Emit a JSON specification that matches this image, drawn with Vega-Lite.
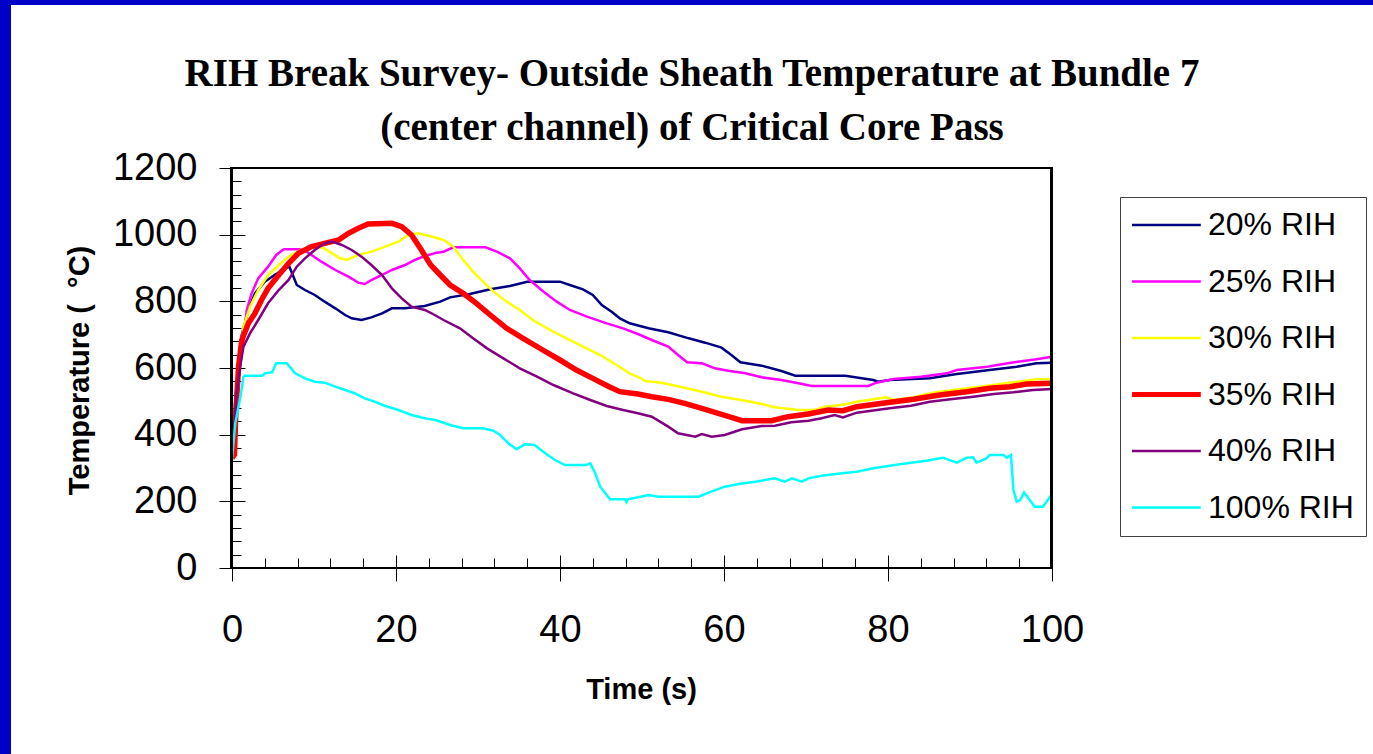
{
"$schema": "https://vega.github.io/schema/vega-lite/v6.json",
"width": 1362, "height": 749,
"autosize": {"type": "none"},
"padding": {"left": 11, "top": 5, "right": 0, "bottom": 0},
"background": "#0000C8",
"config": {"view": {"fill": "white", "stroke": null}, "font": "Liberation Sans",
  "axis": {"grid": false, "domain": false, "tickColor": "black", "tickWidth": 1, "labelColor": "black", "titleColor": "black"}},
"title": {"text": ["RIH Break Survey- Outside Sheath Temperature at Bundle 7", "(center channel) of Critical Core Pass"],
  "font": "Liberation Serif", "fontSize": 39, "fontWeight": "bold", "anchor": "middle", "frame": "group",
  "baseline": "bottom", "lineHeight": 54, "offset": -182, "color": "black"},
"data": {"values": [
{"s":"20% RIH","t":0,"T":330},{"s":"20% RIH","t":0.4,"T":500},{"s":"20% RIH","t":0.8,"T":620},{"s":"20% RIH","t":1.2,"T":700},{"s":"20% RIH","t":2.0,"T":774},{"s":"20% RIH","t":2.8,"T":824},{"s":"20% RIH","t":4.0,"T":859},{"s":"20% RIH","t":5.2,"T":879},{"s":"20% RIH","t":6.5,"T":899},{"s":"20% RIH","t":7.0,"T":904},{"s":"20% RIH","t":7.5,"T":874},{"s":"20% RIH","t":7.9,"T":849},{"s":"20% RIH","t":8.9,"T":834},{"s":"20% RIH","t":10.1,"T":819},{"s":"20% RIH","t":11.3,"T":799},{"s":"20% RIH","t":12.6,"T":779},{"s":"20% RIH","t":13.8,"T":759},{"s":"20% RIH","t":14.6,"T":749},{"s":"20% RIH","t":15.8,"T":744},{"s":"20% RIH","t":17,"T":752},{"s":"20% RIH","t":18.3,"T":764},{"s":"20% RIH","t":19.5,"T":779},{"s":"20% RIH","t":21.1,"T":779},{"s":"20% RIH","t":23.5,"T":786},{"s":"20% RIH","t":25.4,"T":799},{"s":"20% RIH","t":26.6,"T":812},{"s":"20% RIH","t":29,"T":822},{"s":"20% RIH","t":31.5,"T":836},{"s":"20% RIH","t":33.9,"T":846},{"s":"20% RIH","t":36,"T":859},{"s":"20% RIH","t":40,"T":859},{"s":"20% RIH","t":41.2,"T":849},{"s":"20% RIH","t":42.8,"T":836},{"s":"20% RIH","t":44,"T":819},{"s":"20% RIH","t":45.1,"T":789},{"s":"20% RIH","t":46.3,"T":769},{"s":"20% RIH","t":47.3,"T":749},{"s":"20% RIH","t":48.5,"T":734},{"s":"20% RIH","t":50.8,"T":719},{"s":"20% RIH","t":53.2,"T":707},{"s":"20% RIH","t":55.7,"T":689},{"s":"20% RIH","t":57.7,"T":676},{"s":"20% RIH","t":59.7,"T":661},{"s":"20% RIH","t":60.9,"T":639},{"s":"20% RIH","t":62,"T":617},{"s":"20% RIH","t":64.6,"T":607},{"s":"20% RIH","t":67,"T":591},{"s":"20% RIH","t":68.7,"T":577},{"s":"20% RIH","t":74.8,"T":577},{"s":"20% RIH","t":78.2,"T":564},{"s":"20% RIH","t":78.8,"T":559},{"s":"20% RIH","t":80.2,"T":564},{"s":"20% RIH","t":85.1,"T":569},{"s":"20% RIH","t":88.4,"T":582},{"s":"20% RIH","t":92.4,"T":594},{"s":"20% RIH","t":95.7,"T":604},{"s":"20% RIH","t":98.1,"T":614},{"s":"20% RIH","t":100,"T":616},
{"s":"25% RIH","t":0,"T":330},{"s":"25% RIH","t":0.5,"T":500},{"s":"25% RIH","t":1.0,"T":620},{"s":"25% RIH","t":1.4,"T":684},{"s":"25% RIH","t":1.8,"T":774},{"s":"25% RIH","t":2.4,"T":824},{"s":"25% RIH","t":3.2,"T":869},{"s":"25% RIH","t":4.4,"T":904},{"s":"25% RIH","t":5.4,"T":939},{"s":"25% RIH","t":6.3,"T":956},{"s":"25% RIH","t":8.7,"T":956},{"s":"25% RIH","t":9.7,"T":939},{"s":"25% RIH","t":10.9,"T":919},{"s":"25% RIH","t":12.6,"T":894},{"s":"25% RIH","t":14.2,"T":874},{"s":"25% RIH","t":15.4,"T":856},{"s":"25% RIH","t":16.2,"T":852},{"s":"25% RIH","t":17,"T":864},{"s":"25% RIH","t":18.3,"T":879},{"s":"25% RIH","t":19.5,"T":894},{"s":"25% RIH","t":21.1,"T":909},{"s":"25% RIH","t":22.3,"T":924},{"s":"25% RIH","t":23.5,"T":936},{"s":"25% RIH","t":25,"T":946},{"s":"25% RIH","t":25.8,"T":949},{"s":"25% RIH","t":27,"T":962},{"s":"25% RIH","t":30.9,"T":962},{"s":"25% RIH","t":32.3,"T":949},{"s":"25% RIH","t":33.9,"T":929},{"s":"25% RIH","t":35.1,"T":899},{"s":"25% RIH","t":36.3,"T":864},{"s":"25% RIH","t":38,"T":829},{"s":"25% RIH","t":39.6,"T":799},{"s":"25% RIH","t":41.2,"T":774},{"s":"25% RIH","t":43.3,"T":754},{"s":"25% RIH","t":45.7,"T":734},{"s":"25% RIH","t":47.7,"T":719},{"s":"25% RIH","t":49.5,"T":702},{"s":"25% RIH","t":51.2,"T":684},{"s":"25% RIH","t":53.2,"T":664},{"s":"25% RIH","t":54.4,"T":639},{"s":"25% RIH","t":55.5,"T":617},{"s":"25% RIH","t":57.3,"T":614},{"s":"25% RIH","t":58.9,"T":599},{"s":"25% RIH","t":60.5,"T":592},{"s":"25% RIH","t":62.6,"T":584},{"s":"25% RIH","t":64.6,"T":572},{"s":"25% RIH","t":67,"T":564},{"s":"25% RIH","t":69.1,"T":554},{"s":"25% RIH","t":70.7,"T":546},{"s":"25% RIH","t":77.6,"T":546},{"s":"25% RIH","t":78.6,"T":556},{"s":"25% RIH","t":80.7,"T":567},{"s":"25% RIH","t":84,"T":574},{"s":"25% RIH","t":87.2,"T":584},{"s":"25% RIH","t":88.4,"T":594},{"s":"25% RIH","t":92.1,"T":604},{"s":"25% RIH","t":95,"T":616},{"s":"25% RIH","t":98.1,"T":626},{"s":"25% RIH","t":100,"T":634},
{"s":"30% RIH","t":0,"T":330},{"s":"30% RIH","t":0.5,"T":520},{"s":"30% RIH","t":1.0,"T":640},{"s":"30% RIH","t":1.4,"T":724},{"s":"30% RIH","t":2.2,"T":784},{"s":"30% RIH","t":3.2,"T":834},{"s":"30% RIH","t":4.4,"T":879},{"s":"30% RIH","t":5.7,"T":909},{"s":"30% RIH","t":6.9,"T":934},{"s":"30% RIH","t":8.5,"T":956},{"s":"30% RIH","t":10.5,"T":964},{"s":"30% RIH","t":11.3,"T":958},{"s":"30% RIH","t":12.2,"T":944},{"s":"30% RIH","t":13.2,"T":929},{"s":"30% RIH","t":14,"T":924},{"s":"30% RIH","t":15.4,"T":939},{"s":"30% RIH","t":17,"T":949},{"s":"30% RIH","t":18.7,"T":964},{"s":"30% RIH","t":20.3,"T":979},{"s":"30% RIH","t":21.5,"T":999},{"s":"30% RIH","t":22.7,"T":1004},{"s":"30% RIH","t":24.2,"T":995},{"s":"30% RIH","t":25.8,"T":984},{"s":"30% RIH","t":27,"T":964},{"s":"30% RIH","t":28.2,"T":924},{"s":"30% RIH","t":29.4,"T":889},{"s":"30% RIH","t":30.6,"T":859},{"s":"30% RIH","t":31.9,"T":829},{"s":"30% RIH","t":33.5,"T":799},{"s":"30% RIH","t":35.1,"T":774},{"s":"30% RIH","t":36.7,"T":744},{"s":"30% RIH","t":38.8,"T":714},{"s":"30% RIH","t":40.8,"T":689},{"s":"30% RIH","t":42.8,"T":664},{"s":"30% RIH","t":44.9,"T":639},{"s":"30% RIH","t":46.9,"T":609},{"s":"30% RIH","t":48.5,"T":584},{"s":"30% RIH","t":49.8,"T":570},{"s":"30% RIH","t":50.4,"T":561},{"s":"30% RIH","t":52.4,"T":556},{"s":"30% RIH","t":55.2,"T":541},{"s":"30% RIH","t":57.3,"T":529},{"s":"30% RIH","t":59.7,"T":514},{"s":"30% RIH","t":62.1,"T":504},{"s":"30% RIH","t":64.6,"T":492},{"s":"30% RIH","t":66.2,"T":482},{"s":"30% RIH","t":69.1,"T":474},{"s":"30% RIH","t":71.1,"T":474},{"s":"30% RIH","t":72.3,"T":484},{"s":"30% RIH","t":74.5,"T":490},{"s":"30% RIH","t":76.2,"T":499},{"s":"30% RIH","t":78.2,"T":506},{"s":"30% RIH","t":79.8,"T":512},{"s":"30% RIH","t":80.7,"T":504},{"s":"30% RIH","t":83.1,"T":512},{"s":"30% RIH","t":85.5,"T":526},{"s":"30% RIH","t":87.9,"T":534},{"s":"30% RIH","t":91.2,"T":544},{"s":"30% RIH","t":93.6,"T":552},{"s":"30% RIH","t":98.1,"T":566},{"s":"30% RIH","t":100,"T":567},
{"s":"35% RIH","t":0,"T":330},{"s":"35% RIH","t":0.3,"T":340},{"s":"35% RIH","t":0.45,"T":454},{"s":"35% RIH","t":0.8,"T":604},{"s":"35% RIH","t":1.2,"T":684},{"s":"35% RIH","t":2.0,"T":734},{"s":"35% RIH","t":2.8,"T":764},{"s":"35% RIH","t":3.6,"T":804},{"s":"35% RIH","t":4.4,"T":839},{"s":"35% RIH","t":5.7,"T":879},{"s":"35% RIH","t":6.9,"T":914},{"s":"35% RIH","t":8.1,"T":944},{"s":"35% RIH","t":9.7,"T":964},{"s":"35% RIH","t":11.3,"T":974},{"s":"35% RIH","t":13,"T":984},{"s":"35% RIH","t":14.2,"T":1004},{"s":"35% RIH","t":15.4,"T":1019},{"s":"35% RIH","t":16.6,"T":1032},{"s":"35% RIH","t":19.5,"T":1034},{"s":"35% RIH","t":20.7,"T":1024},{"s":"35% RIH","t":21.9,"T":999},{"s":"35% RIH","t":23.1,"T":954},{"s":"35% RIH","t":24.2,"T":910},{"s":"35% RIH","t":25.4,"T":879},{"s":"35% RIH","t":26.6,"T":849},{"s":"35% RIH","t":28.2,"T":824},{"s":"35% RIH","t":29.8,"T":794},{"s":"35% RIH","t":31.5,"T":759},{"s":"35% RIH","t":33.5,"T":719},{"s":"35% RIH","t":35.5,"T":689},{"s":"35% RIH","t":37.9,"T":654},{"s":"35% RIH","t":40,"T":624},{"s":"35% RIH","t":42,"T":594},{"s":"35% RIH","t":44,"T":569},{"s":"35% RIH","t":46,"T":544},{"s":"35% RIH","t":47.3,"T":529},{"s":"35% RIH","t":49.5,"T":522},{"s":"35% RIH","t":51.2,"T":514},{"s":"35% RIH","t":53.2,"T":506},{"s":"35% RIH","t":55.2,"T":494},{"s":"35% RIH","t":57.3,"T":479},{"s":"35% RIH","t":59.3,"T":464},{"s":"35% RIH","t":61.3,"T":449},{"s":"35% RIH","t":62.2,"T":442},{"s":"35% RIH","t":65.8,"T":442},{"s":"35% RIH","t":67.8,"T":454},{"s":"35% RIH","t":70.3,"T":462},{"s":"35% RIH","t":72.7,"T":474},{"s":"35% RIH","t":74.5,"T":472},{"s":"35% RIH","t":76.2,"T":484},{"s":"35% RIH","t":79.8,"T":496},{"s":"35% RIH","t":83.1,"T":506},{"s":"35% RIH","t":86.3,"T":519},{"s":"35% RIH","t":89.6,"T":529},{"s":"35% RIH","t":92.4,"T":539},{"s":"35% RIH","t":94.9,"T":544},{"s":"35% RIH","t":96.9,"T":552},{"s":"35% RIH","t":100,"T":554},
{"s":"40% RIH","t":0,"T":330},{"s":"40% RIH","t":0.57,"T":524},{"s":"40% RIH","t":1,"T":604},{"s":"40% RIH","t":1.4,"T":664},{"s":"40% RIH","t":2.2,"T":704},{"s":"40% RIH","t":3.2,"T":744},{"s":"40% RIH","t":4.4,"T":794},{"s":"40% RIH","t":5.7,"T":834},{"s":"40% RIH","t":6.9,"T":864},{"s":"40% RIH","t":7.9,"T":904},{"s":"40% RIH","t":8.9,"T":929},{"s":"40% RIH","t":10.1,"T":954},{"s":"40% RIH","t":11.3,"T":974},{"s":"40% RIH","t":12.2,"T":979},{"s":"40% RIH","t":13.4,"T":969},{"s":"40% RIH","t":14.6,"T":954},{"s":"40% RIH","t":15.8,"T":934},{"s":"40% RIH","t":17,"T":909},{"s":"40% RIH","t":18.3,"T":879},{"s":"40% RIH","t":19.5,"T":839},{"s":"40% RIH","t":20.7,"T":809},{"s":"40% RIH","t":21.9,"T":784},{"s":"40% RIH","t":23.5,"T":774},{"s":"40% RIH","t":24.5,"T":762},{"s":"40% RIH","t":25.8,"T":744},{"s":"40% RIH","t":27.8,"T":719},{"s":"40% RIH","t":29.4,"T":689},{"s":"40% RIH","t":31.1,"T":659},{"s":"40% RIH","t":33.1,"T":629},{"s":"40% RIH","t":35.1,"T":599},{"s":"40% RIH","t":37.2,"T":574},{"s":"40% RIH","t":39.2,"T":549},{"s":"40% RIH","t":41.6,"T":524},{"s":"40% RIH","t":43.7,"T":504},{"s":"40% RIH","t":45.7,"T":486},{"s":"40% RIH","t":47.7,"T":474},{"s":"40% RIH","t":49.5,"T":464},{"s":"40% RIH","t":51.2,"T":454},{"s":"40% RIH","t":53.2,"T":424},{"s":"40% RIH","t":54.4,"T":404},{"s":"40% RIH","t":56.5,"T":394},{"s":"40% RIH","t":57.3,"T":402},{"s":"40% RIH","t":58.5,"T":394},{"s":"40% RIH","t":60.1,"T":399},{"s":"40% RIH","t":62.2,"T":416},{"s":"40% RIH","t":64.6,"T":426},{"s":"40% RIH","t":66.2,"T":427},{"s":"40% RIH","t":68.2,"T":437},{"s":"40% RIH","t":70.3,"T":442},{"s":"40% RIH","t":71.9,"T":449},{"s":"40% RIH","t":73.5,"T":459},{"s":"40% RIH","t":74.5,"T":452},{"s":"40% RIH","t":76.2,"T":466},{"s":"40% RIH","t":80.2,"T":479},{"s":"40% RIH","t":82.8,"T":487},{"s":"40% RIH","t":85.1,"T":499},{"s":"40% RIH","t":87.6,"T":506},{"s":"40% RIH","t":90.4,"T":514},{"s":"40% RIH","t":92.9,"T":522},{"s":"40% RIH","t":95.3,"T":527},{"s":"40% RIH","t":97.7,"T":534},{"s":"40% RIH","t":100,"T":537},
{"s":"100% RIH","t":0,"T":324},{"s":"100% RIH","t":0.4,"T":434},{"s":"100% RIH","t":0.8,"T":484},{"s":"100% RIH","t":1.2,"T":540},{"s":"100% RIH","t":1.4,"T":574},{"s":"100% RIH","t":1.6,"T":577},{"s":"100% RIH","t":3.7,"T":577},{"s":"100% RIH","t":4.0,"T":584},{"s":"100% RIH","t":4.9,"T":587},{"s":"100% RIH","t":5.4,"T":614},{"s":"100% RIH","t":6.7,"T":614},{"s":"100% RIH","t":7.7,"T":584},{"s":"100% RIH","t":8.9,"T":569},{"s":"100% RIH","t":10.1,"T":559},{"s":"100% RIH","t":11.3,"T":556},{"s":"100% RIH","t":12.6,"T":544},{"s":"100% RIH","t":13.8,"T":534},{"s":"100% RIH","t":15,"T":524},{"s":"100% RIH","t":16.2,"T":509},{"s":"100% RIH","t":17.4,"T":499},{"s":"100% RIH","t":18.7,"T":486},{"s":"100% RIH","t":20.3,"T":474},{"s":"100% RIH","t":21.9,"T":459},{"s":"100% RIH","t":23.5,"T":449},{"s":"100% RIH","t":24.8,"T":444},{"s":"100% RIH","t":26.6,"T":429},{"s":"100% RIH","t":28.2,"T":419},{"s":"100% RIH","t":30.6,"T":419},{"s":"100% RIH","t":31.9,"T":412},{"s":"100% RIH","t":32.7,"T":399},{"s":"100% RIH","t":33.7,"T":374},{"s":"100% RIH","t":34.7,"T":356},{"s":"100% RIH","t":35.7,"T":371},{"s":"100% RIH","t":36.9,"T":369},{"s":"100% RIH","t":38.2,"T":344},{"s":"100% RIH","t":39.4,"T":324},{"s":"100% RIH","t":40.6,"T":309},{"s":"100% RIH","t":43.2,"T":309},{"s":"100% RIH","t":43.7,"T":314},{"s":"100% RIH","t":44.3,"T":284},{"s":"100% RIH","t":44.9,"T":244},{"s":"100% RIH","t":45.7,"T":219},{"s":"100% RIH","t":46.1,"T":206},{"s":"100% RIH","t":48,"T":206},{"s":"100% RIH","t":48.1,"T":198},{"s":"100% RIH","t":48.3,"T":206},{"s":"100% RIH","t":49.8,"T":214},{"s":"100% RIH","t":50.8,"T":219},{"s":"100% RIH","t":52,"T":214},{"s":"100% RIH","t":56.9,"T":214},{"s":"100% RIH","t":58.1,"T":226},{"s":"100% RIH","t":60.1,"T":244},{"s":"100% RIH","t":61.8,"T":252},{"s":"100% RIH","t":63.8,"T":259},{"s":"100% RIH","t":66.2,"T":269},{"s":"100% RIH","t":67.4,"T":259},{"s":"100% RIH","t":68.3,"T":269},{"s":"100% RIH","t":69.5,"T":259},{"s":"100% RIH","t":70.3,"T":269},{"s":"100% RIH","t":71.9,"T":277},{"s":"100% RIH","t":74.4,"T":284},{"s":"100% RIH","t":76.2,"T":289},{"s":"100% RIH","t":78.2,"T":299},{"s":"100% RIH","t":80.2,"T":307},{"s":"100% RIH","t":82.3,"T":314},{"s":"100% RIH","t":84.7,"T":322},{"s":"100% RIH","t":86.7,"T":331},{"s":"100% RIH","t":88.4,"T":316},{"s":"100% RIH","t":89.6,"T":331},{"s":"100% RIH","t":90.4,"T":332},{"s":"100% RIH","t":90.8,"T":316},{"s":"100% RIH","t":92,"T":329},{"s":"100% RIH","t":92.4,"T":339},{"s":"100% RIH","t":94.1,"T":339},{"s":"100% RIH","t":94.5,"T":331},{"s":"100% RIH","t":95,"T":339},{"s":"100% RIH","t":95.3,"T":234},{"s":"100% RIH","t":95.7,"T":199},{"s":"100% RIH","t":96.1,"T":203},{"s":"100% RIH","t":96.6,"T":227},{"s":"100% RIH","t":97.1,"T":210},{"s":"100% RIH","t":97.9,"T":184},{"s":"100% RIH","t":98.9,"T":184},{"s":"100% RIH","t":100,"T":222}
]},
"layer": [
 {"mark": {"type": "line", "interpolate": "linear"},
  "encoding": {
   "x": {"field": "t", "type": "quantitative", "scale": {"domain": [-26.95, 139.15], "nice": false, "zero": false},
     "axis": {"orient": "bottom", "offset": -186, "values": [0,20,40,60,80,100], "format": "d", "tickSize": 13, "labelFont": "Liberation Sans", "labelFontSize": 38, "labelPadding": 30, "labelFlush": false, "labelOverlap": false,
       "title": "Time (s)", "titleFont": "Liberation Sans", "titleFontSize": 29, "titleFontWeight": "bold", "titleX": 630, "titleY": 121, "titleBaseline": "middle", "titleAlign": "center"}},
   "y": {"field": "T", "type": "quantitative", "scale": {"domain": [-558, 1689], "nice": false, "zero": false},
     "axis": {"orient": "left", "offset": -221, "values": [0,200,400,600,800,1000,1200], "format": "d", "tickSize": 13, "labelFont": "Liberation Sans", "labelFontSize": 38, "labelPadding": 22, "labelFlush": false, "labelOverlap": false,
       "title": "Temperature (\u00a0\u00a0°C)", "titleFont": "Liberation Sans", "titleFontSize": 29, "titleFontWeight": "bold", "titleAngle": -90, "titleX": -153, "titleY": 365, "titleBaseline": "middle", "titleAlign": "center"}},
   "color": {"field": "s", "type": "nominal",
     "scale": {"domain": ["20% RIH","25% RIH","30% RIH","35% RIH","40% RIH","100% RIH"], "range": ["#000080","#FF00FF","#FFFF00","#FF0000","#800080","#00FFFF"]},
     "legend": {"orient": "none", "legendX": 1109, "legendY": 192, "title": null, "symbolType": "M-1,0H3.3", "symbolSize": 1024, "symbolStrokeWidth": 2.5, "rowPadding": 24.5, "padding": 12, "labelFont": "Liberation Sans", "labelFontSize": 32, "labelOffset": 44, "labelLimit": 300, "labelColor": "black", "strokeColor": "#404040", "fillColor": "white",
       "encode": {"symbols": {"update": {"strokeWidth": {"signal": "datum.value === '35% RIH' ? 5 : 2.5"}}}}}},
   "strokeWidth": {"condition": {"test": "datum.s === '35% RIH'", "value": 5.5}, "value": 2.5}
  }},
 {"mark": {"type": "rect", "fill": null, "stroke": "black", "strokeWidth": 2},
  "encoding": {
   "x": {"datum": 0, "type": "quantitative", "axis": {"orient": "bottom", "offset": -186, "values": [0,20,40,60,80,100], "tickSize": -13, "labels": false, "title": null}},
   "x2": {"datum": 100},
   "y": {"datum": 0, "type": "quantitative", "axis": {"orient": "left", "offset": -221, "values": [0,200,400,600,800,1000,1200], "tickSize": -13, "labels": false, "title": null}},
   "y2": {"datum": 1200}
  }},
 {"mark": {"type": "point", "opacity": 0},
  "encoding": {
   "x": {"datum": 0, "type": "quantitative", "axis": {"orient": "bottom", "offset": -186, "values": [4,8,12,16,24,28,32,36,44,48,52,56,64,68,72,76,84,88,92,96], "tickSize": -10, "labels": false, "title": null}},
   "y": {"datum": 0, "type": "quantitative", "axis": {"orient": "left", "offset": -221, "values": [40,80,120,160,240,280,320,360,440,480,520,560,640,680,720,760,840,880,920,960,1040,1080,1120,1160], "tickSize": -9, "labels": false, "title": null}}
  }}
],
"resolve": {"axis": {"x": "independent", "y": "independent"}}
}
